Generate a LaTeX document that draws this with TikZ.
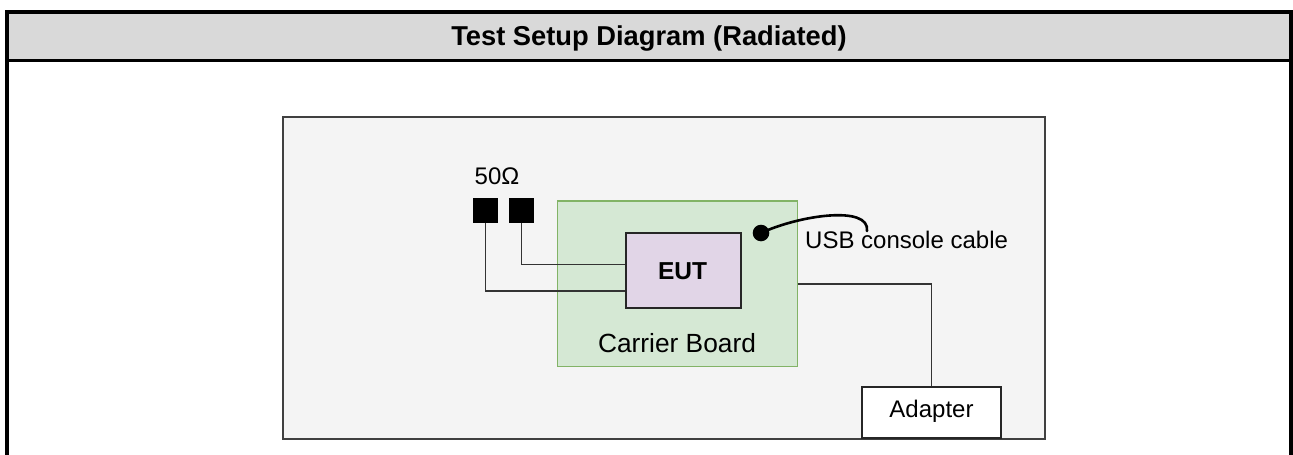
\documentclass[tikz,border=0pt]{standalone}
\usepackage{fontspec}
\setmainfont{Liberation Sans}
\definecolor{hdrgray}{HTML}{D9D9D9}
\definecolor{labgray}{HTML}{F4F4F4}
\definecolor{boardfill}{HTML}{D5E8D4}
\definecolor{boardline}{HTML}{82B366}
\definecolor{eutfill}{HTML}{E1D5E7}
\begin{document}
\begin{tikzpicture}[x=1pt, y=-1pt, font=\fontsize{24}{28}\selectfont]

        % --- STYLES ---
        \tikzstyle{tableline} = [draw=black, line width=4pt]
        \tikzstyle{labbox} = [draw=black!75, fill=labgray, line width=2pt]
        \tikzstyle{board} = [draw=boardline, fill=boardfill, line width=1.2pt, inner sep=0pt]
        \tikzstyle{eutbox} = [draw=black!85, fill=eutfill, line width=2pt, inner sep=0pt]
        \tikzstyle{term} = [draw=black, fill=black, minimum size=24pt, inner sep=0pt]
        \tikzstyle{adbox} = [draw=black!85, fill=white, line width=2pt, inner sep=0pt]
        \tikzstyle{wire} = [draw=black!80, line width=1.6pt]
        \tikzstyle{cable} = [draw=black, line width=2.6pt, line cap=round]
        \tikzstyle{txt} = [inner sep=0pt, anchor=base]

        % --- DEFINITIONS ---
        \def\tW{1293} % Picture width
        \def\tH{455}  % Picture height

        \useasboundingbox (0,0) rectangle (\tW,\tH);

        % --- TABLE FRAME ---
        \fill[hdrgray] (7,12) rectangle (1291,60.7);
        \draw[tableline] (7,\tH) -- (7,12) -- (1291,12) -- (1291,\tH);
        \draw[draw=black, line width=3pt] (7,60.7) -- (1291,60.7);
        \node[txt, font=\fontsize{27.3}{30}\selectfont\bfseries] (title) at (649,45.7) {Test Setup Diagram (Radiated)};

        % --- TEST SITE ---
        \draw[labbox] (283,117) rectangle (1045,439);

        % Carrier board and EUT
        \node[board, minimum width=239.6pt, minimum height=165.7pt] (cb) at (677.5,283.8) {};
        \node[txt, font=\fontsize{26.3}{30}\selectfont] (cblabel) at (677,352.7) {Carrier Board};
        \node[eutbox, minimum width=115pt, minimum height=75pt] (eut) at (683.3,270.8) {};
        \node[txt, font=\fontsize{24.5}{28}\selectfont\bfseries] (eutlabel) at (682.5,279.3) {EUT};

        % 50 Ohm terminations
        \node[term] (ta) at (485.3,210.3) {};
        \node[term] (tb) at (521.3,210.3) {};
        \node[txt] (ohm) at (497,184.3) {50Ω};

        % USB console cable
        \node[circle, fill=black, minimum size=16.6pt, inner sep=0pt] (plug) at (761,233) {};
        \coordinate (cblend) at (867,231);
        \node[txt, anchor=base west] (usb) at (805,248.3) {USB console cable};

        % Adapter
        \node[adbox, minimum width=139pt, minimum height=51pt, anchor=south] (adp) at (931.5,439) {};
        \node[txt] (adlabel) at (931.5,417.7) {Adapter};

        % --- CONNECTIONS ---
        \draw[wire] (ta.south) |- ([yshift=-20pt]eut.west);
        \draw[wire] (tb.south) |- ([yshift=6.5pt]eut.west);
        \draw[cable] (plug.center) .. controls (800,215) and (870,205) .. (cblend);
        \draw[wire] (cb.east) -| (adp.north);

\end{tikzpicture}
\end{document}
